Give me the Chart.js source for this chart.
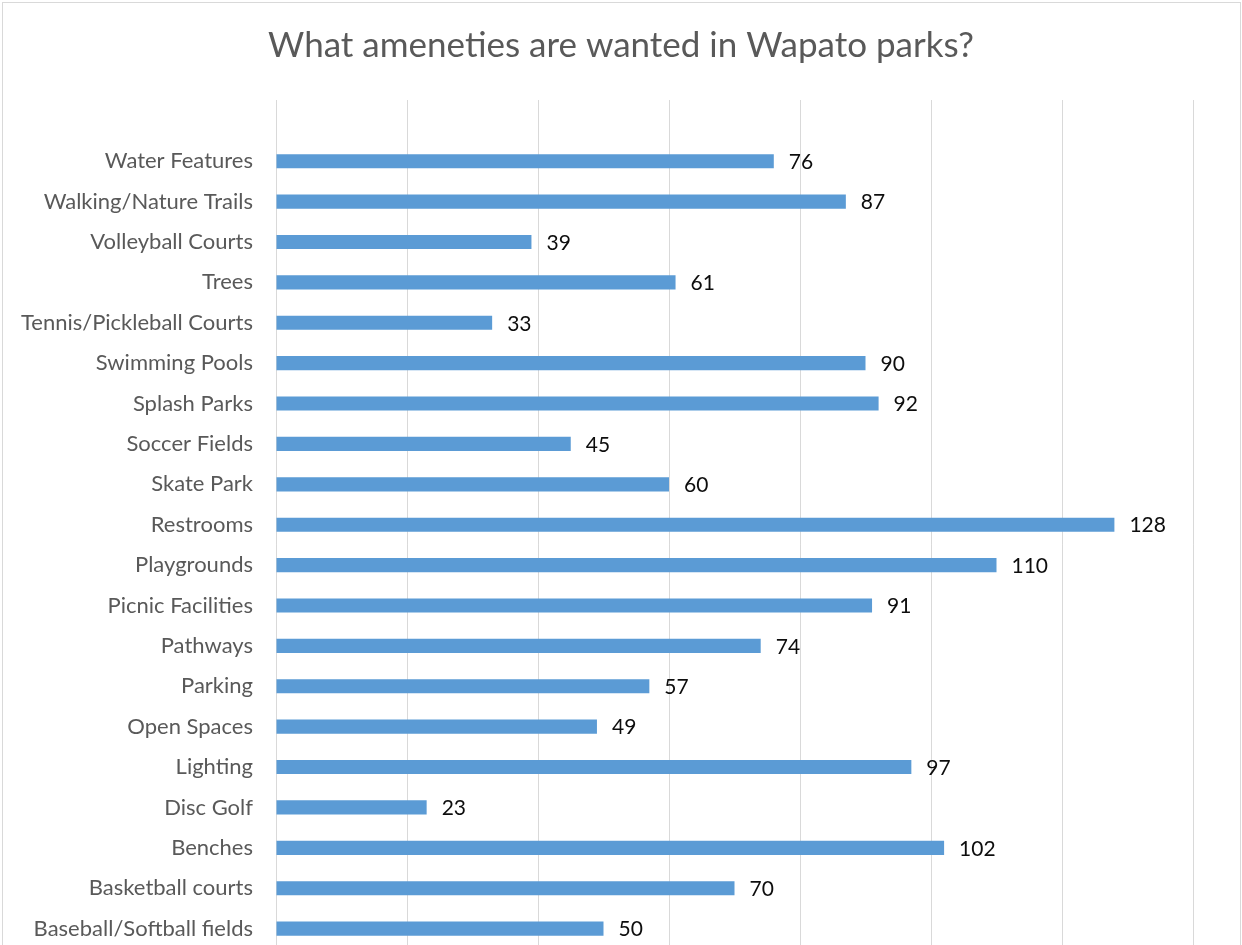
<!DOCTYPE html>
<html>
<head>
<meta charset="utf-8">
<script src="https://cdn.jsdelivr.net/npm/chart.js@4/dist/chart.umd.min.js"></script>
<style>
    html, body { margin: 0; padding: 0; background: #fff; overflow: hidden; }
    #frame { position: absolute; left: 2px; top: 2px; width: 1237px; height: 1000px; border: 1px solid #d9d9d9; }
    #wrap { position: absolute; left: 0; top: 0; width: 1242px; height: 985px; }
</style>
</head>
<body>
<div id="frame"></div>
<div id="wrap"><canvas id="amenityChart" width="1242" height="985"></canvas></div>
<script>
const amenities = [
    'Water Features', 'Walking/Nature Trails', 'Volleyball Courts', 'Trees',
    'Tennis/Pickleball Courts', 'Swimming Pools', 'Splash Parks', 'Soccer Fields',
    'Skate Park', 'Restrooms', 'Playgrounds', 'Picnic Facilities', 'Pathways',
    'Parking', 'Open Spaces', 'Lighting', 'Disc Golf', 'Benches',
    'Basketball courts', 'Baseball/Softball fields'
];
const votes = [76, 87, 39, 61, 33, 90, 92, 45, 60, 128, 110, 91, 74, 57, 49, 97, 23, 102, 70, 50];
const axisMax = 140;
const axisStep = 20;
const chartTitle = 'What ameneties are wanted in Wapato parks?';

const FONT = 'Lato, "Noto Sans", sans-serif';

// value labels at the end of each bar
const barValueLabels = {
    id: 'barValueLabels',
    afterDatasetsDraw(chart) {
        const ctx = chart.ctx;
        const meta = chart.getDatasetMeta(0);
        ctx.save();
        ctx.font = '21px ' + FONT;
        ctx.fillStyle = '#0d0d0d';
        ctx.textAlign = 'left';
        ctx.textBaseline = 'middle';
        meta.data.forEach((bar, i) => {
            ctx.fillText(String(votes[i]), bar.x + 15, bar.y + 1);
        });
        ctx.restore();
    }
};

// title centred on the whole canvas, not on the padded box
const centredTitle = {
    id: 'centredTitle',
    afterDraw(chart) {
        const ctx = chart.ctx;
        ctx.save();
        ctx.font = '35px ' + FONT;
        ctx.fillStyle = '#595959';
        ctx.textAlign = 'center';
        ctx.textBaseline = 'middle';
        ctx.fillText(chartTitle, chart.width / 2, 46);
        ctx.restore();
    }
};

const ctx = document.getElementById('amenityChart').getContext('2d');
new Chart(ctx, {
    type: 'bar',
    data: {
        labels: amenities,
        datasets: [{
            data: votes,
            backgroundColor: '#5b9bd5',
            borderWidth: 0,
            categoryPercentage: 1,
            barPercentage: 0.35
        }]
    },
    options: {
        indexAxis: 'y',
        responsive: false,
        animation: false,
        layout: { padding: { left: 0, right: 49, top: 100, bottom: 0 } },
        scales: {
            x: {
                position: 'top',
                min: 0,
                max: axisMax,
                ticks: { display: false, stepSize: axisStep },
                grid: { color: '#d9d9d9', lineWidth: 1, drawTicks: true, tickLength: 41 },
                border: { display: false }
            },
            y: {
                grid: { display: false, drawTicks: false },
                border: { display: false },
                ticks: {
                    color: '#595959',
                    font: { family: FONT, size: 22 },
                    padding: 23
                },
                afterFit(scale) { scale.width = 276; }
            }
        },
        plugins: {
            legend: { display: false },
            tooltip: { enabled: false },
            title: { display: false }
        }
    },
    plugins: [barValueLabels, centredTitle]
});
</script>
</body>
</html>
